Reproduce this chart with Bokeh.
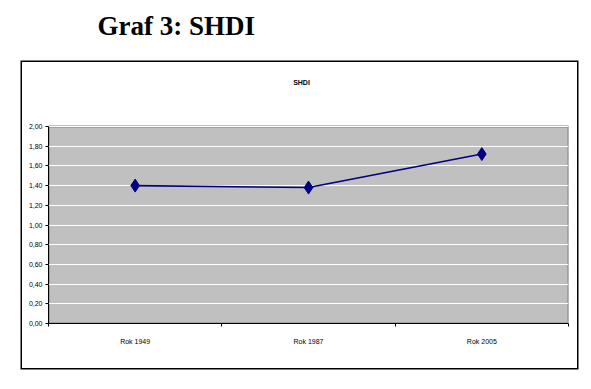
from bokeh.plotting import figure
from bokeh.models import FixedTicker, Label, Range1d
from bokeh.layouts import column
from bokeh.embed import file_html
from bokeh.resources import INLINE

heading = "Graf 3: SHDI"
chart_title = "SHDI"
categories = ["Rok 1949", "Rok 1987", "Rok 2005"]
shdi = [1.40, 1.38, 1.72]
y_ticks = [0.0, 0.2, 0.4, 0.6, 0.8, 1.0, 1.2, 1.4, 1.6, 1.8, 2.0]
y_tick_labels = ["0,00", "0,20", "0,40", "0,60", "0,80", "1,00", "1,20", "1,40", "1,60", "1,80", "2,00"]

# page geometry (pixels)
BL, BT, BR, BB = 22, 62, 577, 368      # outer chart box
PL, PT, PR, PB = 48, 126, 568, 323     # gray plot area
FT = 66                                # top of the drawing frame
PAGE_W = 583

# heading strip
h = figure(width=PAGE_W, height=BT, output_backend="svg", toolbar_location=None,
           x_axis_type=None, y_axis_type=None, min_border=0,
           x_range=Range1d(0, 1), y_range=Range1d(0, 1))
h.outline_line_color = None
h.background_fill_color = "white"
h.border_fill_color = "white"
h.add_layout(Label(x=71, y=37, x_units="screen", y_units="screen", text=heading,
                   text_font="Liberation Serif", text_font_style="bold", text_font_size="27px",
                   text_color="black", text_baseline="alphabetic"))

ncat = len(categories)
ymax = y_ticks[-1]
xs = [i + 0.5 for i in range(ncat)]
y_top = ymax + (PT - FT) * ymax / (PB - PT)

p = figure(width=BR - BL, height=BB - BT, output_backend="svg", toolbar_location=None,
           x_range=Range1d(0, ncat), y_range=Range1d(0, y_top),
           min_border_left=PL - BL, min_border_right=BR - PR,
           min_border_top=FT - BT, min_border_bottom=BB - PB)
p.margin = (0, 0, 0, BL)
p.styles = {"box-shadow": "0 0 0 1.5px black"}
p.background_fill_color = "white"
p.border_fill_color = "white"
p.outline_line_color = None

# gray plot area
p.quad(left=[0], right=[ncat], bottom=[y_ticks[0]], top=[ymax], fill_color="#c0c0c0",
       line_color="#808080", line_width=2, level="image")

p.xgrid.visible = False
p.ygrid.grid_line_color = "white"
p.ygrid.grid_line_width = 1.2
p.ygrid.bounds = (0, ncat)

lab_font = "Liberation Sans"
p.yaxis.ticker = FixedTicker(ticks=y_ticks)
p.yaxis.bounds = (y_ticks[0], ymax)
p.yaxis.major_label_overrides = {t: l for t, l in zip(y_ticks, y_tick_labels)}
p.yaxis.major_tick_in = 0
p.yaxis.major_tick_out = 3
p.yaxis.minor_tick_line_color = None
p.yaxis.axis_line_color = "black"
p.yaxis.major_label_text_font = lab_font
p.yaxis.major_label_text_font_size = "7px"
p.yaxis.major_label_text_color = "black"
p.yaxis.major_label_standoff = 3

p.xaxis.ticker = FixedTicker(ticks=xs, minor_ticks=list(range(ncat + 1)))
p.xaxis.major_label_overrides = {x: c for x, c in zip(xs, categories)}
p.xaxis.major_tick_line_color = None
p.xaxis.minor_tick_in = 0
p.xaxis.minor_tick_out = 3
p.xaxis.minor_tick_line_color = "black"
p.xaxis.axis_line_color = "black"
p.xaxis.major_label_text_font = lab_font
p.xaxis.major_label_text_font_size = "7px"
p.xaxis.major_label_text_color = "black"
p.xaxis.major_label_standoff = 8

p.line(xs, shdi, line_color="#000080", line_width=1.6)
p.scatter(xs, shdi, marker="diamond", size=13, fill_color="#000080", line_color="#000080")

p.add_layout(Label(x=301 - PL, y=PB - 82, x_units="screen", y_units="screen", text=chart_title,
                   text_font=lab_font, text_font_style="bold", text_font_size="7px",
                   text_color="black", text_align="center", text_baseline="middle"))

layout = column(h, p, spacing=0)
open("out.html", "w").write(file_html(layout, INLINE))
